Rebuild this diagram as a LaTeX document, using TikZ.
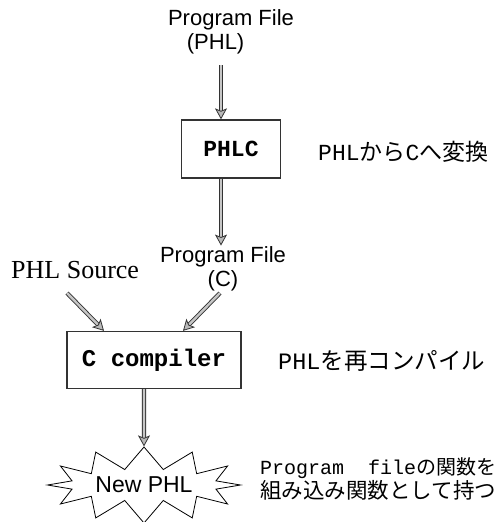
\documentclass[tikz,border=0pt]{standalone}
\usepackage{fontspec}
\setmainfont{Liberation Serif}
\setsansfont{Liberation Sans}
\setmonofont{Liberation Mono}
\newfontfamily\jafont{Noto Sans CJK JP}
\usetikzlibrary{shapes.symbols, arrows.meta, positioning}

\newcommand{\codetxt}[1]{{\ttfamily #1}}

\tikzset{
  procbox/.style={draw=black!80, line width=1.3pt, fill=white, inner sep=0pt,
    font=\ttfamily\bfseries\fontsize{23}{26}\selectfont},
  filelabel/.style={align=center, inner sep=1pt, font=\sffamily\fontsize{22}{24}\selectfont},
  note/.style={anchor=west, align=left, inner sep=0pt, font=\jafont\fontsize{23}{24}\selectfont},
  flow/.style={draw=black!80, line width=0.9pt, double=gray!45, double distance=2.4pt,
    -{Stealth[length=11pt, width=12pt, inset=2.5pt, fill=gray!55, line width=0.8pt]}},
}

\begin{document}
\begin{tikzpicture}[x=1pt, y=-1pt]
\useasboundingbox (0,0) rectangle (500,522);

% translator
\node[filelabel] (pfphl) at (231,32) {Program File\\\hspace{-1.4em}(PHL)};
\node[procbox, minimum width=99pt, minimum height=58pt] (phlc) at (231,149) {PHLC};
\node[note] (conv) at (318,152) {\codetxt{PHL}から\codetxt{C}へ変換};
\coordinate (in1) at (221,65);
\draw[flow] (in1) -- (in1 |- phlc.north);

\node[filelabel] (pfc) at (223,269) {Program File\\(C)};
\draw[flow] ([xshift=-10pt]phlc.south) -- ([xshift=-10pt]phlc.south |- pfc.north);

% recompile
\node[anchor=west, inner sep=0pt, font=\fontsize{26}{28}\selectfont] (src) at (11,270) {PHL Source};
\node[procbox, minimum width=174pt, minimum height=57pt, font=\ttfamily\bfseries\fontsize{24}{26}\selectfont]
  (ccomp) at (154,360) {C compiler};
\node[note, font=\jafont\fontsize{23.5}{24}\selectfont] (recomp) at (278,361) {\codetxt{PHL}を再コンパイル};
\coordinate (in2) at (67,293);
\coordinate (in3) at (220,293);
\draw[flow] (in2) -- ([xshift=-50pt]ccomp.north);
\draw[flow] (in3) -- ([xshift=29pt]ccomp.north);

% result
\node[starburst, starburst points=12, random starburst=0, starburst point height=22pt,
  draw=black, line width=0.8pt, fill=white, minimum width=193pt, minimum height=76pt,
  inner sep=0pt, font=\sffamily\fontsize{23}{26}\selectfont] (newphl) at (144,485) {New PHL};
\draw[flow] ([xshift=-10pt]ccomp.south) -- (newphl.north);
\node[note, font=\jafont\fontsize{20}{21}\selectfont] (builtin) at (260,479)
  {\codetxt{Program\ \ file}の関数を\\{\fontsize{21.5}{21}\selectfont 組み込み関数として持つ}};
\end{tikzpicture}
\end{document}
